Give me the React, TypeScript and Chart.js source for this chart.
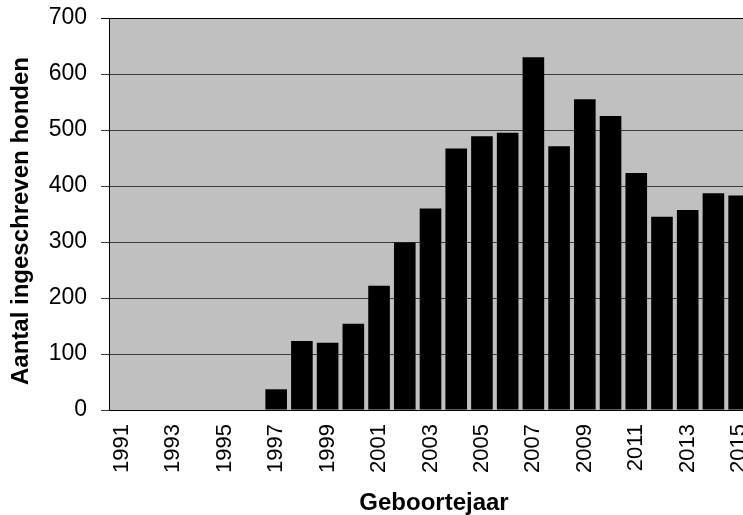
import React, { useEffect, useRef } from "react";
import { Chart, registerables } from "chart.js";

Chart.register(...registerables);

const years: string[] = [
  "1991", "1992", "1993", "1994", "1995", "1996", "1997", "1998", "1999", "2000",
  "2001", "2002", "2003", "2004", "2005", "2006", "2007", "2008", "2009", "2010",
  "2011", "2012", "2013", "2014", "2015",
];
const honden: number[] = [
  0, 0, 0, 0, 0, 0, 37, 123, 120, 154,
  222, 299, 360, 467, 489, 495, 630, 471, 555, 525,
  423, 345, 357, 387, 383,
];
const yTicks: number[] = [0, 100, 200, 300, 400, 500, 600, 700];
const yTitle = "Aantal ingeschreven honden";
const xTitle = "Geboortejaar";

const FONT = "'Liberation Sans', Arial, Helvetica, sans-serif";

const plotBg = {
  id: "plotBg",
  beforeDraw(chart: any) {
    const { ctx, chartArea } = chart;
    ctx.save();
    ctx.fillStyle = "#c0c0c0";
    ctx.fillRect(chartArea.left, chartArea.top, chartArea.right - chartArea.left, chartArea.bottom - chartArea.top);
    ctx.restore();
  },
};

const axisTitles = {
  id: "axisTitles",
  afterDraw(chart: any) {
    const { ctx } = chart;
    ctx.save();
    ctx.fillStyle = "#000000";
    ctx.font = `bold 24px ${FONT}`;
    ctx.textAlign = "center";
    ctx.textBaseline = "middle";
    // y title
    ctx.save();
    ctx.translate(21, 221);
    ctx.rotate(-Math.PI / 2);
    ctx.fillText(yTitle, 0, 0);
    ctx.restore();
    // x title
    ctx.fillText(xTitle, 434, 503);
    ctx.restore();
  },
};

export default function App() {
  const ref = useRef<HTMLCanvasElement | null>(null);

  useEffect(() => {
    if (!ref.current) return;
    const chart = new Chart(ref.current, {
      type: "bar",
      data: {
        labels: years,
        datasets: [
          {
            data: honden,
            backgroundColor: "#000000",
            borderWidth: 0,
            barPercentage: 0.84,
            categoryPercentage: 1,
          },
        ],
      },
      plugins: [plotBg, axisTitles],
      options: {
        responsive: false,
        animation: false,
        layout: { padding: { top: 18, left: 0, right: 0, bottom: 0 } },
        plugins: {
          legend: { display: false },
          tooltip: { enabled: false },
        },
        scales: {
          x: {
            offset: true,
            grid: { display: false, drawTicks: false },
            border: { display: true, color: "#000000", width: 1 },
            ticks: {
              autoSkip: false,
              maxRotation: 90,
              minRotation: 90,
              padding: 14,
              color: "#000000",
              font: { family: FONT, size: 22 },
              callback: (_v: any, i: number) => (i % 2 === 0 ? years[i] : ""),
            },
            afterFit(scale: any) {
              scale.height = 105;
              scale.paddingLeft = 0;
              scale.paddingRight = 0;
            },
          },
          y: {
            min: 0,
            max: 700,
            afterBuildTicks(scale: any) {
              scale.ticks = yTicks.map((v) => ({ value: v }));
            },
            grid: {
              color: (c: any) => (c.tick && c.tick.value === 700 ? "#000000" : "#3c3c3c"),
              tickLength: 8,
              lineWidth: 1,
            },
            border: { display: true, color: "#000000", width: 1 },
            ticks: {
              padding: 14,
              color: "#000000",
              font: { family: FONT, size: 23 },
            },
            afterFit(scale: any) {
              scale.width = 109;
              scale.paddingTop = 0;
              scale.paddingBottom = 0;
            },
          },
        },
      },
    });
    return () => chart.destroy();
  }, []);

  return (
    <div style={{ position: "fixed", left: 0, top: 0, width: 743, height: 515, overflow: "hidden", background: "#ffffff" }}>
      <canvas ref={ref} width={752} height={515} style={{ display: "block" }} />
    </div>
  );
}
